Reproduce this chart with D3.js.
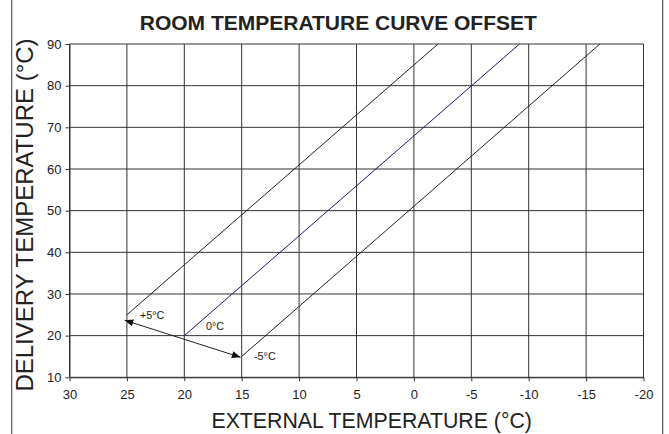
<!DOCTYPE html>
<html>
<head>
<meta charset="utf-8">
<script src="https://cdn.jsdelivr.net/npm/d3@7"></script>
<style>
  html, body { margin: 0; padding: 0; background: #fff; }
  svg { display: block; font-family: Arial, "Liberation Sans", sans-serif; }
</style>
</head>
<body>
<svg id="chart" width="669" height="434"></svg>
<script>
// Axis ticks
const externalTicks = [30, 25, 20, 15, 10, 5, 0, -5, -10, -15, -20];
const deliveryTicks = [10, 20, 30, 40, 50, 60, 70, 80, 90];

// Heating curves for each room temperature offset
const curveLabels   = ["+5°C", "0°C", "-5°C"];
const curveStartExt = [25, 20, 15];
const curveStartDel = [25, 20, 15];
const curveEndExt   = [-2.1, -9.2, -16.2];
const curveEndDel   = [90, 90, 90];

// Double arrow showing the offset range (external, delivery)
const arrowFrom = [25.2, 23.7];
const arrowTo   = [15.1, 14.8];

const svg = d3.select("#chart");
const W = 669, H = 434;
const plot = { left: 69.5, right: 643.5, top: 44, bottom: 377.3 };

const x = d3.scaleLinear().domain([30, -20]).range([plot.left, plot.right]);
const y = d3.scaleLinear().domain([10, 90]).range([plot.bottom, plot.top]);

// Side frame lines
svg.selectAll("line.frame")
  .data([11.7, 662.7])
  .join("line")
  .attr("class", "frame")
  .attr("x1", d => d).attr("x2", d => d)
  .attr("y1", 0).attr("y2", H)
  .attr("stroke", "#555").attr("stroke-width", 1.2);

// Title
svg.append("text")
  .attr("x", 338.3).attr("y", 29.5)
  .attr("text-anchor", "middle")
  .attr("font-size", 21).attr("font-weight", "bold")
  .attr("fill", "#222")
  .text("ROOM TEMPERATURE CURVE OFFSET");

// Grid
const grid = svg.append("g").attr("stroke", "#333").attr("stroke-width", 1);
grid.selectAll("line.v").data(externalTicks).join("line")
  .attr("class", "v")
  .attr("x1", d => x(d)).attr("x2", d => x(d))
  .attr("y1", plot.top).attr("y2", plot.bottom);
grid.selectAll("line.h").data(deliveryTicks).join("line")
  .attr("class", "h")
  .attr("x1", plot.left).attr("x2", plot.right)
  .attr("y1", d => y(d)).attr("y2", d => y(d));

// Axes (plain hyphen for negative values)
const fmt = d => String(d);
const xAxis = svg.append("g")
  .attr("transform", `translate(0,${plot.bottom})`)
  .call(d3.axisBottom(x).tickValues(externalTicks).tickFormat(fmt)
    .tickSize(4).tickSizeOuter(0).tickPadding(8));
const yAxis = svg.append("g")
  .attr("transform", `translate(${plot.left},0)`)
  .call(d3.axisLeft(y).tickValues(deliveryTicks).tickFormat(fmt)
    .tickSize(4).tickSizeOuter(0).tickPadding(4));
[xAxis, yAxis].forEach(g => {
  g.selectAll("path.domain").attr("stroke", "#333");
  g.selectAll(".tick line").attr("stroke", "#333");
  g.selectAll(".tick text")
    .attr("font-size", 13)
    .attr("font-family", "Arial, 'Liberation Sans', sans-serif")
    .attr("fill", "#222");
});

// Axis titles
svg.append("text")
  .attr("x", 371.7).attr("y", 428)
  .attr("text-anchor", "middle")
  .attr("font-size", 21.3).attr("fill", "#222")
  .text("EXTERNAL TEMPERATURE (°C)");
svg.append("text")
  .attr("transform", "translate(33,215) rotate(-90)")
  .attr("text-anchor", "middle")
  .attr("font-size", 24).attr("fill", "#222")
  .text("DELIVERY TEMPERATURE (°C)");

// Curves
const curveColors = ["#222", "#1c1c6a", "#222"];
const labelDx = [13, 21.7, 12.3];
const labelDy = [4.5, -5.3, 3.3];
const curves = curveLabels.map((label, i) => ({
  label,
  pts: [[curveStartExt[i], curveStartDel[i]], [curveEndExt[i], curveEndDel[i]]],
  color: curveColors[i], dx: labelDx[i], dy: labelDy[i]
}));
const line = d3.line().x(d => x(d[0])).y(d => y(d[1]));

svg.append("g").selectAll("path").data(curves).join("path")
  .attr("d", d => line(d.pts))
  .attr("fill", "none")
  .attr("stroke", d => d.color)
  .attr("stroke-width", 1);

svg.append("g").selectAll("text").data(curves).join("text")
  .attr("x", d => x(d.pts[0][0]) + d.dx)
  .attr("y", d => y(d.pts[0][1]) + d.dy)
  .attr("font-size", 10.8)
  .attr("fill", "#222")
  .text(d => d.label);

// Double-headed offset arrow
const defs = svg.append("defs");
defs.append("marker")
  .attr("id", "head")
  .attr("viewBox", "0 -4 10 8")
  .attr("refX", 10).attr("refY", 0)
  .attr("markerUnits", "userSpaceOnUse")
  .attr("markerWidth", 9).attr("markerHeight", 7)
  .attr("orient", "auto-start-reverse")
  .append("path")
  .attr("d", "M0,-4L10,0L0,4Z")
  .attr("fill", "#111");

svg.append("path")
  .attr("d", line([arrowFrom, arrowTo]))
  .attr("fill", "none")
  .attr("stroke", "#222")
  .attr("stroke-width", 1)
  .attr("marker-start", "url(#head)")
  .attr("marker-end", "url(#head)");
</script>
</body>
</html>
